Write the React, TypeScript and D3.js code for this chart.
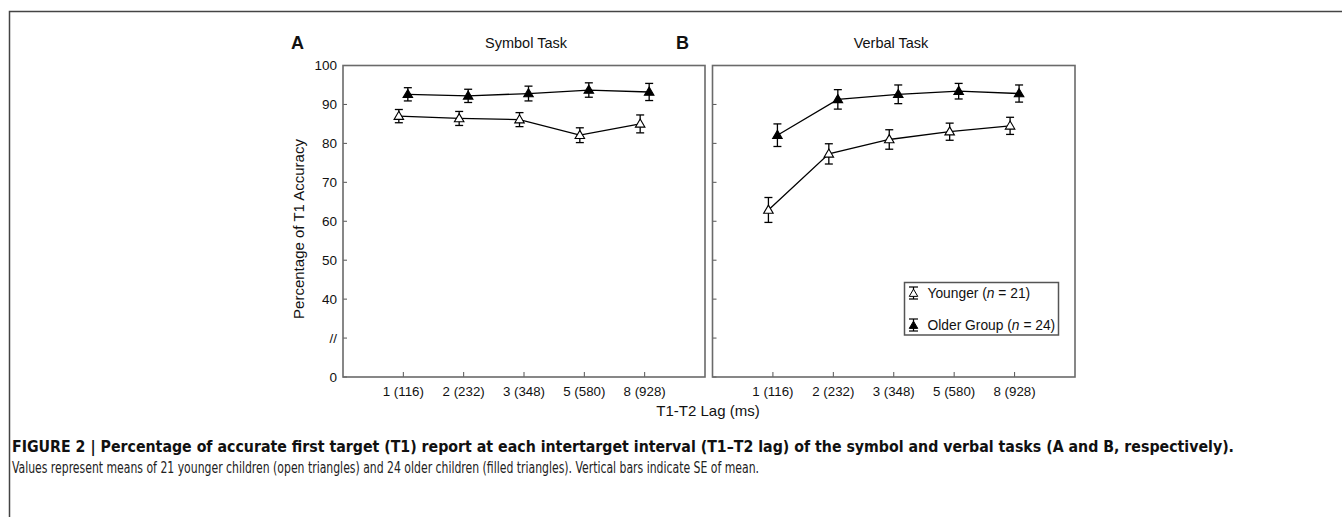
import React from "react";
import * as d3 from "d3";

const lags = ["1 (116)", "2 (232)", "3 (348)", "5 (580)", "8 (928)"];
const yTickValues = [20, 30, 40, 50, 60, 70, 80, 90, 100];
const yTickLabels = ["0", "//", "40", "50", "60", "70", "80", "90", "100"];

const symbolYounger = [87.0, 86.4, 86.1, 82.1, 85.0];
const symbolYoungerSE = [1.7, 1.8, 1.8, 1.9, 2.3];
const symbolOlder = [92.6, 92.2, 92.8, 93.7, 93.2];
const symbolOlderSE = [1.7, 1.7, 1.9, 1.85, 2.2];

const verbalYounger = [62.9, 77.3, 81.0, 83.0, 84.5];
const verbalYoungerSE = [3.2, 2.6, 2.5, 2.2, 2.2];
const verbalOlder = [82.1, 91.3, 92.6, 93.4, 92.8];
const verbalOlderSE = [2.9, 2.5, 2.4, 2.0, 2.2];

const FONT = "'Liberation Sans', Arial, Helvetica, sans-serif";
const CAPFONT = "'Liberation Sans Narrow', 'DejaVu Sans Condensed', 'Liberation Sans', sans-serif";

const TOP = 65.5;
const BOTTOM = 377;

const yScale = d3.scaleLinear().domain([20, 100]).range([BOTTOM, TOP]);

function triPath(cx: number, cy: number, s = 9.5) {
  const h = s * 0.85;
  return `M${cx},${cy - h * 0.6}L${cx + s / 2},${cy + h * 0.4}L${cx - s / 2},${cy + h * 0.4}Z`;
}

type SeriesProps = {
  x: d3.ScalePoint<string>;
  vals: number[];
  se: number[];
  dx: number;
  filled: boolean;
};

function Series({ x, vals, se, dx, filled }: SeriesProps) {
  const line = d3
    .line<number>()
    .x((_, i) => (x(lags[i]) as number) + dx)
    .y((d) => yScale(d));
  return (
    <g>
      <path d={line(vals) || ""} fill="none" stroke="#000" strokeWidth={1.3} />
      {vals.map((v, i) => {
        const cx = (x(lags[i]) as number) + dx;
        const y1 = yScale(v + se[i]);
        const y2 = yScale(v - se[i]);
        return (
          <g key={i} stroke="#000" strokeWidth={1.3}>
            <line x1={cx} x2={cx} y1={y1} y2={y2} />
            <line x1={cx - 4} x2={cx + 4} y1={y1} y2={y1} />
            <line x1={cx - 4} x2={cx + 4} y1={y2} y2={y2} />
            <path d={triPath(cx, yScale(v))} fill={filled ? "#000" : "#fff"} strokeWidth={1.1} />
          </g>
        );
      })}
    </g>
  );
}

type PanelProps = {
  left: number;
  right: number;
  showLabels: boolean;
  younger: number[];
  youngerSE: number[];
  older: number[];
  olderSE: number[];
};

function Panel({ left, right, showLabels, younger, youngerSE, older, olderSE }: PanelProps) {
  const x = d3.scalePoint<string>().domain(lags).range([left, right]).padding(1);
  return (
    <g fontFamily={FONT}>
      {yTickValues.map((t, i) => (
        <g key={t}>
          <line x1={left} x2={left + 4} y1={yScale(t)} y2={yScale(t)} stroke="#555" strokeWidth={1} />
          {showLabels && (
            <text x={left - 6} y={yScale(t)} dy="0.36em" textAnchor="end" fontSize={13.5} fill="#111">
              {yTickLabels[i]}
            </text>
          )}
        </g>
      ))}
      {lags.map((l) => (
        <g key={l}>
          <line x1={x(l)} x2={x(l)} y1={BOTTOM} y2={BOTTOM - 5} stroke="#555" strokeWidth={1} />
          <text x={x(l)} y={395.5} textAnchor="middle" fontSize={13.3} fill="#111">
            {l}
          </text>
        </g>
      ))}
      <rect x={left} y={TOP} width={right - left} height={BOTTOM - TOP} fill="none" stroke="#6a6a6a" strokeWidth={1.6} />
      <Series x={x} vals={younger} se={youngerSE} dx={-4.5} filled={false} />
      <Series x={x} vals={older} se={olderSE} dx={4.5} filled={true} />
    </g>
  );
}

function LegendMarker({ cx, cy, filled }: { cx: number; cy: number; filled: boolean }) {
  return (
    <g stroke="#000" strokeWidth={1.2}>
      <line x1={cx} x2={cx} y1={cy - 6} y2={cy + 6} />
      <line x1={cx - 4.5} x2={cx + 4.5} y1={cy - 6} y2={cy - 6} />
      <line x1={cx - 4.5} x2={cx + 4.5} y1={cy + 6} y2={cy + 6} />
      <path d={triPath(cx, cy + 0.5, 8.5)} fill={filled ? "#000" : "#fff"} strokeWidth={1} />
    </g>
  );
}

export default function App() {
  return (
    <svg
      width={1342}
      height={517}
      style={{ position: "absolute", left: 0, top: 0, background: "#fff" }}
    >
      <rect x={9.5} y={11.5} width={1400} height={600} fill="#fff" stroke="#444" strokeWidth={1.5} />

      <text x={291} y={48.5} fontFamily={FONT} fontWeight="bold" fontSize={18} fill="#111">A</text>
      <text x={526} y={48} fontFamily={FONT} fontSize={14.5} textAnchor="middle" fill="#111">Symbol Task</text>
      <text x={676} y={48.5} fontFamily={FONT} fontWeight="bold" fontSize={18} fill="#111">B</text>
      <text x={891} y={48} fontFamily={FONT} fontSize={14.5} textAnchor="middle" fill="#111">Verbal Task</text>

      <Panel
        left={343}
        right={705}
        showLabels={true}
        younger={symbolYounger}
        youngerSE={symbolYoungerSE}
        older={symbolOlder}
        olderSE={symbolOlderSE}
      />
      <Panel
        left={712.5}
        right={1075}
        showLabels={false}
        younger={verbalYounger}
        youngerSE={verbalYoungerSE}
        older={verbalOlder}
        olderSE={verbalOlderSE}
      />

      <text
        transform="translate(304,229) rotate(-90)"
        textAnchor="middle"
        fontFamily={FONT}
        fontSize={15}
        fill="#111"
      >
        Percentage of T1 Accuracy
      </text>
      <text x={708} y={416} textAnchor="middle" fontFamily={FONT} fontSize={15} fill="#111">
        T1-T2 Lag (ms)
      </text>

      <g fontFamily={FONT} fontSize={13.8} fill="#111">
        <rect x={904.5} y={282.5} width={154} height={52.5} fill="#fff" stroke="#555" strokeWidth={1.5} />
        <LegendMarker cx={913.5} cy={293} filled={false} />
        <text x={927.5} y={297.5}>
          Younger (<tspan fontStyle="italic">n</tspan> = 21)
        </text>
        <LegendMarker cx={913.5} cy={325} filled={true} />
        <text x={927.5} y={330}>
          Older Group (<tspan fontStyle="italic">n</tspan> = 24)
        </text>
      </g>

      <text
        x={12}
        y={452}
        fontFamily={CAPFONT}
        fontWeight="bold"
        fontSize={15.5}
        fill="#111"
        textLength={1222}
        lengthAdjust="spacingAndGlyphs"
      >
        FIGURE 2 | Percentage of accurate first target (T1) report at each intertarget interval (T1–T2 lag) of the symbol and verbal tasks (A and B, respectively).
      </text>
      <text
        x={12}
        y={472.5}
        fontFamily={CAPFONT}
        fontSize={16}
        fill="#222"
        textLength={747}
        lengthAdjust="spacingAndGlyphs"
      >
        Values represent means of 21 younger children (open triangles) and 24 older children (filled triangles). Vertical bars indicate SE of mean.
      </text>
    </svg>
  );
}
